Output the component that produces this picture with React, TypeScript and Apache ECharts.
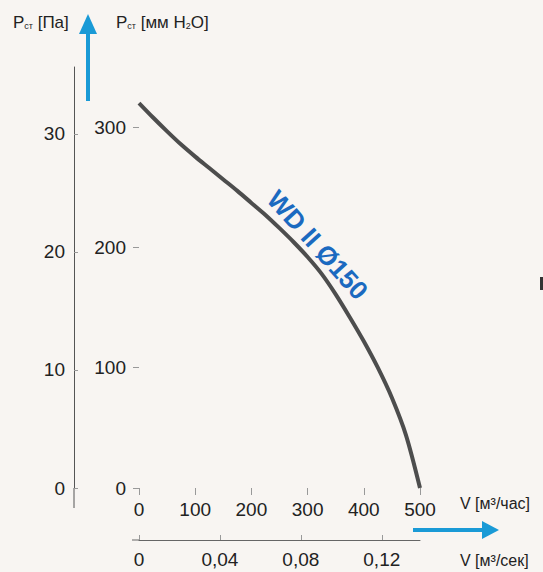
import React, { useEffect, useRef } from "react";
import * as echarts from "echarts";

// Flow (m³/h) and static pressure
const flowM3h = [0, 25, 50, 75, 100, 125, 150, 175, 200, 225, 250, 275, 300, 325, 350, 375, 400, 425, 450, 475, 500];
const pressure = [320, 308, 296.5, 285.5, 275.5, 266, 256.5, 247, 237, 227, 216, 204.5, 192, 178, 161, 142, 122, 100, 75, 44, 0];

// Axis tick values
const flowTicksM3h = [0, 100, 200, 300, 400, 500];
const flowTicksM3s = [0, 0.04, 0.08, 0.12];
const innerPressureTicks = [0, 100, 200, 300];
const outerPressureTicks = [0, 10, 20, 30];

// Curve label
const curveName = "WD II Ø150";
const curveLabelAt = [318, 202];

const FONT = '"Liberation Sans", Arial, Helvetica, sans-serif';
const BLUE = "#1a9ad6";
const TXT = "#222";

export default function App() {
  const ref = useRef<HTMLDivElement>(null);

  useEffect(() => {
    document.body.style.margin = "0";
    document.body.style.background = "#f8f5f2";
    if (!ref.current) return;
    const chart = echarts.init(ref.current, undefined, { renderer: "svg" });

    const yMaxMm = 350;
    const mmPerPa = 9.81;

    const option: any = {
      animation: false,
      backgroundColor: "#f8f5f2",
      textStyle: { fontFamily: FONT },
      grid: {
        left: 139,
        right: 123,
        top: 67,
        bottom: 84,
        containLabel: false,
        outerBoundsMode: "none",
      },
      xAxis: [
        {
          type: "value",
          min: 0,
          max: 500,
          interval: 100,
          position: "bottom",
          axisLine: { show: false, onZero: false },
          axisTick: {
            show: true,
            inside: false,
            length: 7,
            customValues: flowTicksM3h,
            lineStyle: { color: "#999", width: 1 },
          },
          axisLabel: {
            customValues: flowTicksM3h,
            fontSize: 19,
            color: TXT,
            margin: 12,
            fontFamily: FONT,
          },
          splitLine: { show: false },
        },
        {
          type: "value",
          min: 0,
          max: 500 / 3600,
          position: "bottom",
          offset: 52,
          axisLine: { show: true, onZero: false, lineStyle: { color: "#666", width: 1 } },
          axisTick: {
            show: true,
            inside: true,
            length: 5,
            customValues: flowTicksM3s,
            lineStyle: { color: "#999", width: 1 },
          },
          axisLabel: {
            customValues: flowTicksM3s,
            fontSize: 19,
            color: TXT,
            margin: 10,
            fontFamily: FONT,
            formatter: (v: number) =>
              String(parseFloat(v.toFixed(2))).replace(".", ","),
          },
          splitLine: { show: false },
        },
      ],
      yAxis: [
        {
          type: "value",
          min: 0,
          max: yMaxMm,
          position: "left",
          axisLine: { show: false, onZero: false },
          axisTick: {
            show: true,
            inside: false,
            length: 6,
            customValues: innerPressureTicks,
            lineStyle: { color: "#999", width: 1 },
          },
          axisLabel: {
            customValues: innerPressureTicks,
            fontSize: 19,
            color: TXT,
            margin: 13,
            fontFamily: FONT,
          },
          splitLine: { show: false },
        },
        {
          type: "value",
          min: 0,
          max: yMaxMm / mmPerPa,
          position: "left",
          offset: 65,
          axisLine: { show: true, onZero: false, lineStyle: { color: "#555", width: 1 } },
          axisTick: {
            show: true,
            inside: true,
            length: 4,
            customValues: outerPressureTicks,
            lineStyle: { color: "#999", width: 1 },
          },
          axisLabel: {
            customValues: outerPressureTicks,
            fontSize: 19,
            color: TXT,
            margin: 9,
            fontFamily: FONT,
          },
          splitLine: { show: false },
        },
      ],
      series: [
        {
          type: "line",
          xAxisIndex: 0,
          yAxisIndex: 0,
          data: flowM3h.map((f, i) => [f, pressure[i]]),
          smooth: 0.3,
          symbol: "none",
          lineStyle: { color: "#4d4d4d", width: 4 },
          z: 3,
        },
        {
          type: "scatter",
          xAxisIndex: 0,
          yAxisIndex: 0,
          data: [curveLabelAt],
          symbolSize: 1,
          itemStyle: { opacity: 0 },
          label: {
            show: true,
            position: "inside",
            formatter: curveName,
            rotate: -48,
            color: "#1b6ac0",
            fontSize: 26,
            fontWeight: "bold",
            fontFamily: FONT,
            textBorderWidth: 0,
            opacity: 1,
          },
          emphasis: { disabled: true },
          z: 4,
        },
      ],
      graphic: [
        // axis line extensions
        {
          type: "line",
          shape: { x1: 74, y1: 488, x2: 74, y2: 508 },
          style: { stroke: "#555", lineWidth: 1 },
        },
        {
          type: "line",
          shape: { x1: 132, y1: 540, x2: 139, y2: 540 },
          style: { stroke: "#666", lineWidth: 1 },
        },
        // vertical blue arrow
        {
          type: "line",
          shape: { x1: 88, y1: 101, x2: 88, y2: 30 },
          style: { stroke: BLUE, lineWidth: 4 },
        },
        {
          type: "polygon",
          shape: { points: [[79, 34], [97, 34], [88, 14]] },
          style: { fill: BLUE },
        },
        // horizontal blue arrow
        {
          type: "line",
          shape: { x1: 413, y1: 530, x2: 486, y2: 530 },
          style: { stroke: BLUE, lineWidth: 4 },
        },
        {
          type: "polygon",
          shape: { points: [[482, 521], [482, 539], [499, 530]] },
          style: { fill: BLUE },
        },
        // axis titles
        {
          type: "text",
          x: 13,
          y: 22,
          style: {
            text: "{p|P}{s|ст}{p| [Па]}",
            verticalAlign: "middle",
            align: "left",
            rich: {
              p: { fontSize: 17, fill: TXT, fontFamily: FONT },
              s: { fontSize: 9, fill: TXT, fontFamily: FONT, verticalAlign: "bottom" },
            },
          },
        },
        {
          type: "text",
          x: 116,
          y: 22,
          style: {
            text: "{p|P}{s|ст}{p| [мм H}{s|2}{p|O]}",
            verticalAlign: "middle",
            align: "left",
            rich: {
              p: { fontSize: 17, fill: TXT, fontFamily: FONT },
              s: { fontSize: 9, fill: TXT, fontFamily: FONT, verticalAlign: "bottom" },
            },
          },
        },
        {
          type: "text",
          x: 460,
          y: 503,
          style: {
            text: "V [м³/час]",
            fontSize: 16,
            fontFamily: FONT,
            fill: TXT,
            verticalAlign: "middle",
            align: "left",
          },
        },
        {
          type: "text",
          x: 460,
          y: 560,
          style: {
            text: "V [м³/сек]",
            fontSize: 16,
            fontFamily: FONT,
            fill: TXT,
            verticalAlign: "middle",
            align: "left",
          },
        },
        // cut-off mark at right edge
        {
          type: "rect",
          shape: { x: 540, y: 277, width: 3, height: 13 },
          style: { fill: "#333" },
        },
      ],
    };

    chart.setOption(option);
    return () => chart.dispose();
  }, []);

  return <div ref={ref} style={{ width: 543, height: 572 }} />;
}
